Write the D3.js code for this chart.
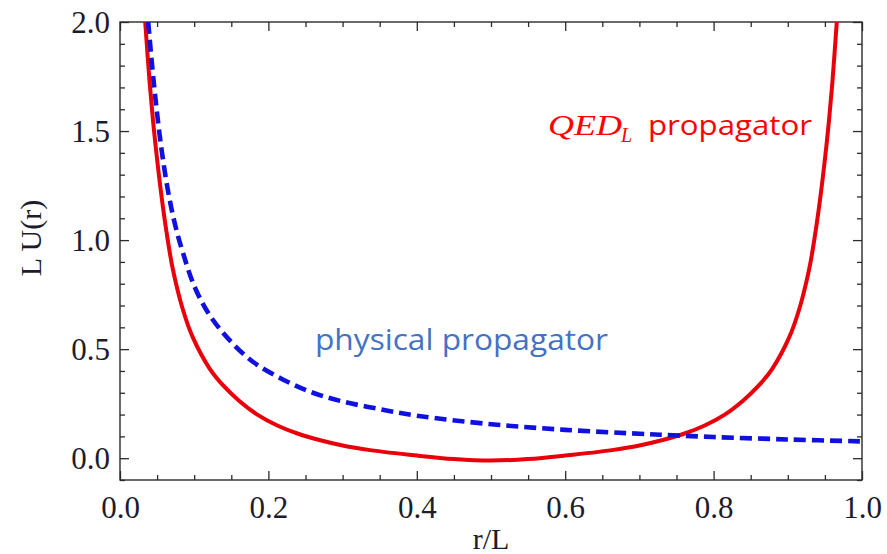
<!DOCTYPE html>
<html>
<head>
<meta charset="utf-8">
<script src="https://cdn.jsdelivr.net/npm/d3@7"></script>
<style>
body { margin: 0; background: #fff; }
</style>
</head>
<body>
<script>
var w = 887;
var h = 554;

// r/L values and L U(r)
var qedR = [0.034,0.04,0.045,0.05,0.056,0.063,0.071,0.084,0.098,0.121,0.14,0.16,0.185,0.212,0.24,0.27,0.3,0.337,0.4,0.45,0.5,
            0.55,0.6,0.663,0.7,0.73,0.76,0.788,0.815,0.84,0.86,0.879,0.902,0.916,0.929,0.937,0.944,0.95,0.955,0.96,0.966];
var qedU = [2.0,1.72,1.53,1.37,1.2,1.03,0.87,0.69,0.555,0.41,0.33,0.265,0.2,0.15,0.112,0.082,0.058,0.037,0.012,-0.004,-0.011,
            -0.004,0.012,0.037,0.058,0.082,0.112,0.15,0.2,0.265,0.33,0.41,0.555,0.69,0.87,1.03,1.2,1.37,1.53,1.72,2.0];
var physR = [0.038,0.045,0.055,0.065,0.075,0.085,0.1,0.12,0.148,0.18,0.22,0.26,0.3,0.35,0.4,0.5,0.6,0.7,0.745,0.8,0.9,1.0];
var physU = [2.0,1.74,1.44,1.22,1.06,0.94,0.79,0.66,0.54,0.44,0.36,0.30,0.26,0.225,0.195,0.156,0.13,0.112,0.105,0.097,0.086,0.077];

var xMajor = [0,0.2,0.4,0.6,0.8,1.0];
var yMajor = [0,0.5,1.0,1.5,2.0];

var pLeft = 120, pRight = 862, pTop = 22, pBottom = 480;

var x = d3.scaleLinear().domain([0,1]).range([pLeft,pRight]);
var y = d3.scaleLinear().domain([-0.1,2.0]).range([pBottom,pTop]);

var svg = d3.select("body").append("svg").attr("width",w).attr("height",h);

svg.append("clipPath").attr("id","plot")
.append("rect").attr("x",pLeft).attr("y",pTop).attr("width",pRight-pLeft).attr("height",pBottom-pTop);

var xMinor = d3.range(0,1.0001,0.05).filter(function(d){return Math.abs(d*5-Math.round(d*5))>1e-6;});
var yMinor = d3.range(-0.1,2.0001,0.1).filter(function(d){return Math.abs(d*2-Math.round(d*2))>1e-6;});

var tickColor = "#2b2b2b";
var fmt = d3.format(".1f");

function ticks(axis,pos,vals,size,labels){
  var g = svg.append("g").attr("transform",pos)
  .call(axis.tickValues(vals).tickSize(size).tickSizeOuter(0).tickFormat(labels ? fmt : ""));
  g.select(".domain").remove();
  g.selectAll("line").attr("stroke",tickColor).attr("stroke-width",1.3);
  return g;
}

// inward ticks on all four sides
var gx = ticks(d3.axisBottom(x),"translate(0,"+pBottom+")",xMajor,-9,true);
ticks(d3.axisBottom(x),"translate(0,"+pBottom+")",xMinor,-5,false);
ticks(d3.axisTop(x),"translate(0,"+pTop+")",xMajor,-9,false);
ticks(d3.axisTop(x),"translate(0,"+pTop+")",xMinor,-5,false);
var gy = ticks(d3.axisLeft(y),"translate("+pLeft+",0)",yMajor,-9,true);
ticks(d3.axisLeft(y),"translate("+pLeft+",0)",yMinor,-5,false);
ticks(d3.axisRight(y),"translate("+pRight+",0)",yMajor,-9,false);
ticks(d3.axisRight(y),"translate("+pRight+",0)",yMinor,-5,false);

gx.selectAll("text").attr("y",16).attr("dy","0.71em")
.attr("font-family","Liberation Serif").attr("font-size",31).attr("fill","#1c1c2c");
gy.selectAll("text").attr("x",-10).attr("dy","0.34em")
.attr("font-family","Liberation Serif").attr("font-size",31).attr("fill","#1c1c2c");

svg.append("rect").attr("x",pLeft).attr("y",pTop).attr("width",pRight-pLeft).attr("height",pBottom-pTop)
.attr("fill","none").attr("stroke",tickColor).attr("stroke-width",1.4);

var line = d3.line()
.x(function(d){return x(d[0]);})
.y(function(d){return y(d[1]);})
.curve(d3.curveCatmullRom.alpha(0.5));

var curves = svg.append("g").attr("clip-path","url(#plot)");

curves.append("path")
.attr("d",line(d3.zip(qedR,qedU)))
.attr("fill","none").attr("stroke","#e8000a").attr("stroke-width",4);

curves.append("path")
.attr("d",line(d3.zip(physR,physU)))
.attr("fill","none").attr("stroke","#1010e0").attr("stroke-width",4.6)
.attr("stroke-dasharray","12,6");

// axis titles
svg.append("text").attr("x",(pLeft+pRight)/2).attr("y",549).attr("text-anchor","middle")
.attr("font-family","Liberation Serif").attr("font-size",30).attr("fill","#1c1c2c").text("r/L");
svg.append("text").attr("transform","translate(41,238) rotate(-90)").attr("text-anchor","middle")
.attr("font-family","Liberation Serif").attr("font-size",30).attr("fill","#1c1c2c").text("L U(r)");

// annotations
svg.append("text").attr("x",315).attr("y",350)
.attr("font-family","Open Sans").attr("font-size",29).attr("fill","#4472c4")
.attr("textLength",293).attr("lengthAdjust","spacingAndGlyphs").text("physical propagator");

svg.append("text").attr("x",548).attr("y",135)
.attr("font-family","Liberation Serif").attr("font-style","italic").attr("font-size",30).attr("fill","#ff0000")
.attr("textLength",74).attr("lengthAdjust","spacingAndGlyphs").text("QED");
svg.append("text").attr("x",621).attr("y",142)
.attr("font-family","Liberation Serif").attr("font-style","italic").attr("font-size",20).attr("fill","#ff0000").text("L");
svg.append("text").attr("x",648).attr("y",135)
.attr("font-family","Open Sans").attr("font-size",28).attr("fill","#ff0000")
.attr("textLength",164).attr("lengthAdjust","spacingAndGlyphs").text("propagator");
</script>
</body>
</html>
